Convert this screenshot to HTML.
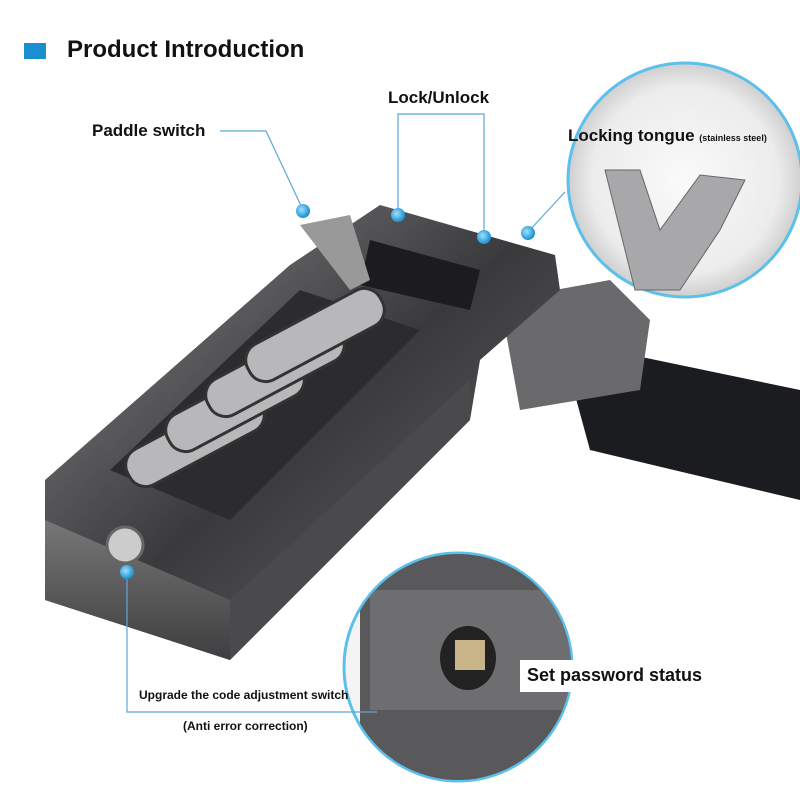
<!DOCTYPE html>
<html><head><style>
body{margin:0;width:800px;height:800px;background:#fff;position:relative;overflow:hidden;font-family:"Liberation Sans",sans-serif}
.t{position:absolute;font-weight:bold;color:#111;white-space:nowrap}
</style></head><body>
<svg width="800" height="800" style="position:absolute;left:0;top:0">
<defs>
<linearGradient id="m" x1="0" y1="0" x2="1" y2="1"><stop offset="0" stop-color="#8a8a8c"/><stop offset=".5" stop-color="#3a3a3d"/><stop offset="1" stop-color="#6b6b6e"/></linearGradient>
<linearGradient id="f" x1="0" y1="0" x2="0" y2="1"><stop offset="0" stop-color="#777"/><stop offset="1" stop-color="#3e3e40"/></linearGradient>
<radialGradient id="c" cx=".5" cy=".5" r=".5"><stop offset="0" stop-color="#fafafa"/><stop offset=".8" stop-color="#ececec"/><stop offset="1" stop-color="#cfcfcf"/></radialGradient>
<radialGradient id="d" cx=".4" cy=".4" r=".6"><stop offset="0" stop-color="#9ee0ff"/><stop offset="1" stop-color="#1a8fd0"/></radialGradient>
<clipPath id="bc"><circle cx="458" cy="667" r="113"/></clipPath>
</defs>
<rect x="24" y="43" width="22" height="16" fill="#1a8fd0"/>
<!-- cable -->
<path d="M560 340 L800 390 L800 500 L590 450 Z" fill="#1b1c1f"/>
<path d="M500 300 L610 280 L650 320 L640 390 L520 410 Z" fill="#6a6a6d"/>
<!-- body -->
<path d="M45 480 L290 265 L380 205 L555 255 L560 290 L480 360 L470 420 L230 660 L45 600 Z" fill="url(#m)"/>
<path d="M45 520 L230 600 L230 660 L45 600 Z" fill="url(#f)"/>
<path d="M230 600 L470 380 L470 420 L230 660 Z" fill="#4a4a4d"/>
<path d="M110 470 L300 290 L420 330 L230 520 Z" fill="#2c2c2f"/>
<g fill="#b8b8bb" stroke="#333" stroke-width="3">
<rect x="120" y="420" width="150" height="40" rx="18" transform="rotate(-28 195 440)"/>
<rect x="160" y="385" width="150" height="40" rx="18" transform="rotate(-28 235 405)"/>
<rect x="200" y="350" width="150" height="40" rx="18" transform="rotate(-28 275 370)"/>
<rect x="240" y="315" width="150" height="40" rx="18" transform="rotate(-28 315 335)"/>
</g>
<path d="M370 240 L480 270 L470 310 L360 285 Z" fill="#1c1c1e"/>
<path d="M300 225 L350 215 L370 280 L350 290 Z" fill="#999"/>
<circle cx="125" cy="545" r="18" fill="#ccc" stroke="#666" stroke-width="3"/>
<!-- circles -->
<circle cx="685" cy="180" r="117" fill="url(#c)" stroke="#5bc0ea" stroke-width="3"/>
<path d="M605 170 L640 170 L660 230 L700 175 L745 180 L720 230 L680 290 L635 290 Z" fill="#a8a8aa" stroke="#666"/>
<circle cx="458" cy="667" r="114" fill="#f4f4f4" stroke="#5bc0ea" stroke-width="3"/>
<g clip-path="url(#bc)">
<path d="M360 540 L520 540 L580 600 L580 790 L360 790 Z" fill="#59595c"/>
<path d="M370 590 L570 590 L570 710 L370 710 Z" fill="#6e6e71"/>
<ellipse cx="468" cy="658" rx="28" ry="32" fill="#222"/>
<rect x="455" y="640" width="30" height="30" fill="#c9b48a"/>
</g>
<!-- lines -->
<g stroke="#5aa8d8" stroke-width="1.2" fill="none">
<path d="M220 131 L266 131 L303 210"/>
<path d="M398 215 L398 114 L484 114 L484 237"/>
<path d="M528 232 L565 192"/>
<path d="M127 570 L127 712 L377 712"/>
</g>
<g fill="url(#d)"><circle cx="303" cy="211" r="7"/><circle cx="398" cy="215" r="7"/><circle cx="484" cy="237" r="7"/><circle cx="528" cy="233" r="7"/><circle cx="127" cy="572" r="7"/></g>
<rect x="520" y="660" width="180" height="32" fill="#fff"/>
</svg>
<div class="t" style="left:67px;top:36px;font-size:24px">Product Introduction</div>
<div class="t" style="left:388px;top:88px;font-size:17px">Lock/Unlock</div>
<div class="t" style="left:92px;top:121px;font-size:17px">Paddle switch</div>
<div class="t" style="left:568px;top:126px;font-size:17px">Locking tongue <span style="font-size:9px">(stainless steel)</span></div>
<div class="t" style="left:527px;top:665px;font-size:18px">Set password status</div>
<div class="t" style="left:139px;top:688px;font-size:12px">Upgrade the code adjustment switch</div>
<div class="t" style="left:183px;top:719px;font-size:12px">(Anti error correction)</div>
</body></html>
